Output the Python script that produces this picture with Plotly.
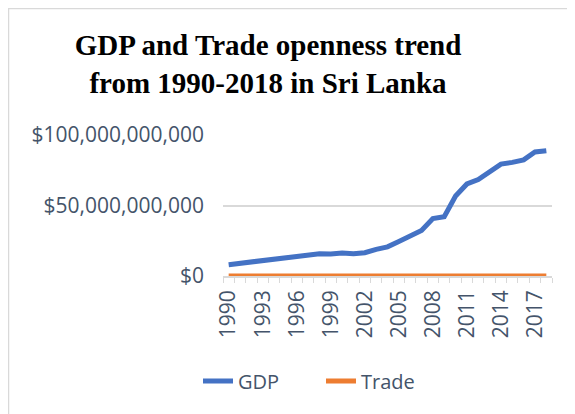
import plotly.graph_objects as go

years = list(range(1990, 2019))
gdp = [
    8.03e9, 9.00e9, 9.70e9, 10.34e9, 11.72e9, 13.03e9, 13.90e9, 15.09e9,
    15.79e9, 15.66e9, 16.33e9, 15.75e9, 16.54e9, 18.88e9, 20.66e9, 24.41e9,
    28.28e9, 32.35e9, 40.71e9, 42.07e9, 56.73e9, 65.29e9, 68.43e9, 74.32e9,
    79.36e9, 80.60e9, 82.40e9, 87.96e9, 88.90e9,
]
trade = [
    66.5, 67.6, 70.6, 73.6, 76.5, 81.6, 78.1, 77.4, 75.1, 75.8, 88.6, 80.0,
    74.6, 73.3, 77.7, 73.6, 70.5, 68.3, 62.6, 49.1, 52.6, 57.9, 53.9, 48.4,
    49.6, 49.5, 49.9, 52.2, 53.0,
]
label_years = list(range(1990, 2018, 3))

TEXT = "#44546A"
GRID = "#D9D9D9"
FONT = "Open Sans"

# the page body adds an 8px offset, so figure coords = window coords - 8
W, H = 575, 414
L, R, T, B = 215, 31, 127, 146
pw, ph = W - L - R, H - T - B


def px_x(v):
    return (v - L) / pw


def px_y(v):
    return (H - B - v) / ph


fig = go.Figure()
fig.add_trace(go.Scatter(
    x=years, y=gdp, name="GDP", mode="lines",
    line={"color": "#4472C4", "width": 5}, cliponaxis=False,
))
fig.add_trace(go.Scatter(
    x=years, y=trade, name="Trade", mode="lines",
    line={"color": "#ED7D31", "width": 5}, cliponaxis=False,
))

# chart frame (only left and top edges fall inside the picture)
fig.add_shape(type="rect", xref="paper", yref="paper",
              x0=px_x(0.5), x1=px_x(W + 10), y0=px_y(H + 10), y1=px_y(0.5),
              line={"color": GRID, "width": 1.5}, layer="below")

fig.update_layout(
    width=W, height=H,
    margin={"l": L, "r": R, "t": T, "b": B, "autoexpand": False},
    paper_bgcolor="white", plot_bgcolor="white",
    font={"family": FONT, "color": TEXT, "size": 21},
    title={
        "text": "<b>GDP and Trade openness trend<br>from 1990-2018 in Sri Lanka</b>",
        "font": {"family": "Liberation Serif", "size": 29, "color": "black"},
        "x": 260 / W, "xanchor": "center",
        "y": 1 - 47 / H, "yanchor": "top",
    },
    xaxis={
        "range": [1989.5, 2018.5],
        "tickvals": label_years,
        "ticktext": [str(y) for y in label_years],
        "tickangle": -90,
        "ticks": "",
        "ticklabelstandoff": 4,
        "showgrid": False, "zeroline": False,
        "showline": True, "linecolor": GRID, "linewidth": 1.5,
        "minor": {"tick0": 1989.5, "dtick": 1, "ticks": "outside",
                  "ticklen": 5, "tickcolor": GRID, "showgrid": False},
        "tickfont": {"size": 21},
    },
    yaxis={
        "range": [0, 100e9],
        "tickvals": [0, 50e9, 100e9],
        "tickformat": "$,.0f",
        "showgrid": True, "gridcolor": GRID, "gridwidth": 1.5,
        "zeroline": False, "showline": False,
        "ticklabelstandoff": 18,
        "tickfont": {"size": 21},
    },
    legend={
        "orientation": "h",
        "xref": "container", "yref": "container",
        "x": 190 / W, "xanchor": "left",
        "y": 1 - 373 / H, "yanchor": "middle",
        "entrywidth": 78, "entrywidthmode": "pixels",
        "font": {"size": 20, "color": TEXT},
        "bgcolor": "rgba(0,0,0,0)",
    },
    showlegend=True,
)

fig.write_html("out.html")
